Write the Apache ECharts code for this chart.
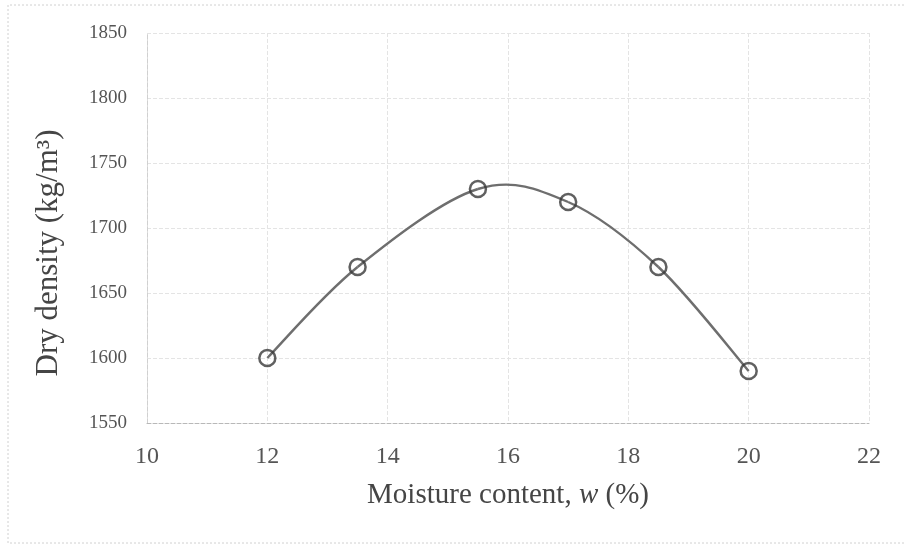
<!DOCTYPE html>
<html>
<head>
<meta charset="utf-8">
<script src="https://cdn.jsdelivr.net/npm/echarts@6/dist/echarts.min.js"></script>
<style>
html,body{margin:0;padding:0;background:#fff;}
#c{width:904px;height:545px;}
</style>
</head>
<body>
<div id="c"></div>
<script>
var moisture = [12, 13.5, 15.5, 17, 18.5, 20];
var dryDensity = [1600, 1670, 1730, 1720, 1670, 1590];
var xTicks = [10, 12, 14, 16, 18, 20, 22];
var yTicks = [1550, 1600, 1650, 1700, 1750, 1800, 1850];

var pts = moisture.map(function (m, i) { return [m, dryDensity[i]]; });
var serif = '"Liberation Serif", "DejaVu Serif", serif';

// Excel-style smooth curve: Catmull-Rom segments drawn through the axis scales
function renderSegment(params, api) {
  var i = params.dataIndex;
  var n = pts.length;
  if (i >= n - 1) return null;
  var p0 = api.coord(pts[Math.max(i - 1, 0)]);
  var p1 = api.coord(pts[i]);
  var p2 = api.coord(pts[i + 1]);
  var p3 = api.coord(pts[Math.min(i + 2, n - 1)]);
  return {
    type: 'bezierCurve',
    shape: {
      x1: p1[0], y1: p1[1], x2: p2[0], y2: p2[1],
      cpx1: p1[0] + (p2[0] - p0[0]) / 6, cpy1: p1[1] + (p2[1] - p0[1]) / 6,
      cpx2: p2[0] - (p3[0] - p1[0]) / 6, cpy2: p2[1] - (p3[1] - p1[1]) / 6
    },
    style: { fill: null, stroke: '#6e6e6e', lineWidth: 2.4 }
  };
}

var chart = echarts.init(document.getElementById('c'));
chart.setOption({
  backgroundColor: '#fff',
  animation: false,
  graphic: [{
    type: 'polyline',
    shape: { points: [[904, 5], [8, 5], [8, 543], [904, 543]] },
    style: { fill: null, stroke: '#d0d0d0', lineWidth: 1, lineDash: [2, 2] },
    silent: true
  }, {
    type: 'text',
    x: 49, y: 253,
    rotation: Math.PI / 2,
    style: {
      text: 'Dry density (kg/m³)',
      font: '31px ' + serif,
      fill: '#454545',
      textAlign: 'center',
      textVerticalAlign: 'middle'
    },
    silent: true
  }],
  grid: { left: 147, right: 35, top: 33, bottom: 122 },
  xAxis: {
    type: 'value',
    min: xTicks[0], max: xTicks[xTicks.length - 1], interval: 2,
    name: 'Moisture content, {i|w} (%)',
    nameLocation: 'middle',
    nameGap: 58,
    nameTextStyle: {
      fontFamily: serif, fontSize: 29, color: '#454545',
      rich: { i: { fontFamily: serif, fontSize: 29, fontStyle: 'italic', color: '#454545' } }
    },
    axisLine: { lineStyle: { color: '#b8b8b8', type: 'dashed', width: 1 } },
    axisTick: { show: false },
    axisLabel: { fontFamily: serif, fontSize: 24, color: '#555', margin: 22 },
    splitLine: { show: true, lineStyle: { color: '#e4e4e4', type: 'dashed', width: 1 } }
  },
  yAxis: {
    type: 'value',
    min: yTicks[0], max: yTicks[yTicks.length - 1], interval: 50,
    axisLine: { show: true, lineStyle: { color: '#d0d0d0', type: 'dashed', width: 1 } },
    axisTick: { show: false },
    axisLabel: {
      fontFamily: serif, fontSize: 19, color: '#555', margin: 20,
      formatter: function (v) { return String(v); }
    },
    splitLine: { show: true, lineStyle: { color: '#e4e4e4', type: 'dashed', width: 1 } }
  },
  series: [{
    type: 'custom',
    renderItem: renderSegment,
    data: pts,
    encode: { x: 0, y: 1 },
    silent: true,
    z: 2
  }, {
    type: 'scatter',
    data: pts,
    symbol: 'circle',
    symbolSize: 16,
    itemStyle: { color: 'rgba(255,255,255,0)', borderColor: '#383838', borderWidth: 2.5 },
    z: 3
  }]
});
</script>
</body>
</html>
